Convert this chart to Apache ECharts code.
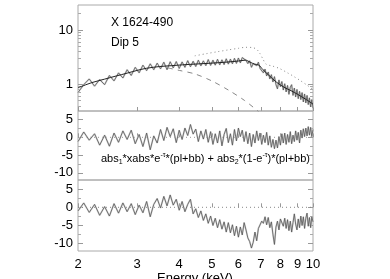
<!DOCTYPE html>
<html><head><meta charset="utf-8">
<script src="https://cdn.jsdelivr.net/npm/echarts@6/dist/echarts.min.js"></script>
<style>html,body{margin:0;padding:0;background:#fff}#c{width:390px;height:279px}</style>
</head><body><div id="c"></div>
<script>
const energy = [2.00,2.08,2.16,2.24,2.32,2.40,2.48,2.56,2.64,2.72,2.80,2.88,2.96,3.04,3.12,3.20,3.28,3.36,3.44,3.52,3.60,3.68,3.76,3.84,3.92,4.00,4.08,4.16,4.24,4.32,4.40,4.48,4.56,4.64,4.72,4.80,4.88,4.96,5.04,5.12,5.20,5.28,5.36,5.44,5.52,5.60,5.68,5.76,5.84,5.92,6.00,6.08,6.16,6.24,6.32,6.40,6.48,6.56,6.64,6.72,6.80,6.88,6.96,7.04,7.12,7.20,7.28,7.36,7.44,7.52,7.60,7.68,7.76,7.84,7.92,8.00,8.08,8.16,8.24,8.32,8.40,8.48,8.56,8.64,8.72,8.80,8.88,8.96,9.04,9.12,9.20,9.28,9.36,9.44,9.52,9.60,9.68,9.76,9.84,9.92,10.00];
const flux = [0.70,0.98,1.25,0.92,1.22,0.98,1.45,1.15,1.62,1.30,1.85,1.45,2.05,1.62,2.25,1.78,2.38,1.85,2.45,1.92,2.55,1.85,2.60,2.00,2.62,1.95,2.58,2.05,2.72,2.10,2.65,2.12,2.78,2.18,2.70,2.20,2.85,2.22,2.78,2.25,2.88,2.28,2.82,2.30,2.95,2.35,2.90,2.38,3.00,2.42,3.05,2.48,3.10,3.20,2.75,2.40,2.70,2.05,2.40,2.60,2.20,2.55,1.95,2.00,1.62,1.90,1.42,1.68,1.25,1.50,1.10,1.38,0.98,0.82,1.20,0.90,1.12,0.78,1.02,0.72,0.95,0.65,0.88,0.98,0.62,0.85,0.58,0.80,0.54,0.74,0.52,0.70,0.47,0.66,0.45,0.62,0.42,0.56,0.38,0.52,0.36];
const resid1 = [-1.2,1.5,-0.8,1.0,-2.2,0.6,-2.5,1.2,-1.4,1.8,-0.6,2.0,-1.8,0.8,-2.6,1.2,-3.5,0.4,-1.6,2.2,-0.9,2.8,0.2,2.4,-1.5,2.0,-0.6,2.6,0.5,3.6,0.9,2.3,-1.2,1.8,-0.5,2.2,-1.4,1.6,-2.0,1.0,-1.6,1.8,-2.4,0.8,2.5,-1.5,1.0,-2.2,2.2,-1.0,2.6,0.2,2.0,-1.2,1.6,-1.8,1.2,-2.6,0.8,-1.6,1.8,-0.9,1.2,-2.0,0.6,-1.5,1.4,-2.2,0.4,-2.8,-0.6,-3.2,-0.8,-3.0,0.2,-2.2,1.0,-1.6,1.2,-2.0,0.8,-1.4,1.6,-1.8,0.6,-1.2,1.8,-0.8,1.4,-1.6,2.0,-0.2,2.4,0.2,2.6,0.4,3.0,0.6,2.8,0.2,2.2];
const resid2 = [-1.0,1.2,-1.4,0.8,-2.2,0.2,-2.4,1.0,-1.6,1.2,-1.2,1.0,-2.0,0.6,-1.5,1.6,-2.6,0.8,2.4,-0.2,3.0,0.4,3.4,0.6,2.2,-0.8,1.6,-1.2,0.8,2.2,-1.8,-0.4,-2.8,-1.0,-3.6,-1.8,-4.4,-2.4,-5.0,-3.0,-5.6,-3.4,-6.0,-4.0,-6.8,-4.2,-7.0,-4.8,-7.8,-5.2,-8.2,-5.4,-7.6,-4.2,-6.2,-8.4,-9.4,-11.2,-9.6,-6.8,-9.2,-5.8,-6.0,-3.8,-4.4,-2.6,-4.8,-2.8,-5.6,-4.0,-7.4,-10.2,-5.4,-3.8,-6.2,-3.2,-2.8,-5.2,-3.0,-5.8,-3.4,-6.4,-3.8,-6.8,-4.2,-1.8,-4.6,-6.2,-3.2,-5.6,-2.4,-5.0,-2.6,-5.8,-3.0,-1.6,-5.2,-2.8,-5.6,-2.6,-4.0];
const modelE = [2.0,2.2,2.4,2.6,2.8,3.0,3.2,3.5,3.8,4.1,4.5,5.0,5.5,6.0,6.3,6.5,6.7,6.9,7.1,7.4,7.8,8.2,8.6,9.0,9.5,10.0];
const modelF = [0.86,1.07,1.24,1.42,1.60,1.80,1.97,2.12,2.20,2.28,2.36,2.45,2.55,2.68,2.78,2.55,2.35,2.25,1.85,1.45,1.08,0.88,0.76,0.65,0.53,0.43];
const unabsE = [4.45,4.8,5.2,5.6,6.0,6.3,6.6,6.8,6.95,7.1,7.25,7.6,7.95,8.4,8.8,9.2,9.6,10.0];
const unabsF = [3.34,3.65,3.98,4.3,4.6,4.8,4.75,4.4,3.7,2.9,2.35,2.15,1.95,1.62,1.37,1.15,0.96,0.8];
const compE = [3.7,4.0,4.45,5.0,5.6,6.26,6.9];
const compF = [2.0,1.8,1.55,1.15,0.78,0.5,0.31];
const xTicks = [2,3,4,5,6,7,8,9,10];
const topTicks = [1,10];
const topMinor = [0.4,0.5,0.6,0.7,0.8,0.9,2,3,4,5,6,7,8,9,20];
const resTicks = [-10,-5,0,5];
const resMinor = [-7.5,-2.5,2.5];

const FONT = 'Liberation Sans, Arial, Helvetica, sans-serif';
const zip = (a,b) => a.map((v,i)=>[v,b[i]]);
const grids = [
  {left:78, top:5, width:235, height:106},
  {left:78, top:111, width:235, height:69},
  {left:78, top:180, width:235, height:71}
].map(g => Object.assign(g, {show:true, borderColor:'#aaa', borderWidth:1, containLabel:false}));

const xAxes = [0,1,2].map(i => ({
  type:'log', gridIndex:i, min:2, max:10, logBase:10,
  axisLine:{show:false}, splitLine:{show:false},
  axisTick:{show:true, inside:true, length:4, lineStyle:{color:'#999'}, customValues:xTicks},
  axisLabel:{show:i===2, customValues:xTicks, margin:7, color:'#000', fontSize:13, fontFamily:FONT, formatter:v=>String(Math.round(v))}
}));

function yPair(gi, type, min, max, major, minor, labelFmt) {
  const base = {type, gridIndex:gi, min, max, axisLine:{show:false}, splitLine:{show:false}};
  if (type==='log') base.logBase = 10;
  return [
    Object.assign({}, base, {position:'left',
      axisTick:{show:true, inside:true, length:5, lineStyle:{color:'#999'}, customValues:major},
      axisLabel:{show:true, customValues:major, margin:5, color:'#000', fontSize:13, fontFamily:FONT, formatter:labelFmt}}),
    Object.assign({}, base, {position:'left',
      axisTick:{show:true, inside:true, length:3, lineStyle:{color:'#aaa'}, customValues:minor},
      axisLabel:{show:false}}),
    Object.assign({}, base, {position:'right',
      axisTick:{show:true, inside:true, length:5, lineStyle:{color:'#999'}, customValues:major},
      axisLabel:{show:false}}),
    Object.assign({}, base, {position:'right',
      axisTick:{show:true, inside:true, length:3, lineStyle:{color:'#aaa'}, customValues:minor},
      axisLabel:{show:false}})
  ];
}
const yAxes = [].concat(
  yPair(0,'log',0.32,29,topTicks,topMinor,v=>String(Math.round(v))),
  yPair(1,'value',-12,7.4,resTicks,resMinor,v=>String(v)),
  yPair(2,'value',-12,7.5,resTicks,resMinor,v=>String(v))
);

const lineBase = {type:'line', showSymbol:false, symbol:'none', silent:true, animation:false};
const band = {color:'#d8d8d8', width:1.8};
const thin = {color:'#555', width:0.8};
const series = [
  Object.assign({}, lineBase, {xAxisIndex:0, yAxisIndex:0, data:zip(energy,flux), lineStyle:band}),
  Object.assign({}, lineBase, {xAxisIndex:0, yAxisIndex:0, data:zip(energy,flux), lineStyle:thin}),
  Object.assign({}, lineBase, {xAxisIndex:0, yAxisIndex:0, data:zip(modelE,modelF), smooth:0.3, lineStyle:{color:'#222', width:1}}),
  Object.assign({}, lineBase, {xAxisIndex:0, yAxisIndex:0, data:zip(unabsE,unabsF), smooth:0.3, lineStyle:{color:'#888', width:1, type:[1,3]}}),
  Object.assign({}, lineBase, {xAxisIndex:0, yAxisIndex:0, data:zip(compE,compF), smooth:0.3, lineStyle:{color:'#888', width:1, type:[5,5]}}),
  Object.assign({}, lineBase, {xAxisIndex:1, yAxisIndex:4, data:[[2,0],[10,0]], lineStyle:{color:'#999', width:1, type:[1,3]}}),
  Object.assign({}, lineBase, {xAxisIndex:1, yAxisIndex:4, data:zip(energy,resid1), lineStyle:band}),
  Object.assign({}, lineBase, {xAxisIndex:1, yAxisIndex:4, data:zip(energy,resid1), lineStyle:thin}),
  Object.assign({}, lineBase, {xAxisIndex:2, yAxisIndex:8, data:[[2,0],[10,0]], lineStyle:{color:'#888', width:1, type:[1,3]}}),
  Object.assign({}, lineBase, {xAxisIndex:2, yAxisIndex:8, data:zip(energy,resid2), lineStyle:band}),
  Object.assign({}, lineBase, {xAxisIndex:2, yAxisIndex:8, data:zip(energy,resid2), lineStyle:thin})
];

const chart = echarts.init(document.getElementById('c'), null, {renderer:'canvas'});
chart.setOption({
  animation:false,
  backgroundColor:'#fff',
  grid:grids, xAxis:xAxes, yAxis:yAxes, series,
  graphic:[
    {type:'text', left:111, top:17, style:{text:'X 1624-490', font:'12px ' + FONT, fill:'#000'}},
    {type:'text', left:111, top:37, style:{text:'Dip 5', font:'12px ' + FONT, fill:'#000'}},
    {type:'text', right:80, top:152, style:{
      text:'{n|abs}{s|1}{n|*xabs*e}{p|-τ}{n|*(pl+bb) + abs}{s|2}{n|*(1-e}{p|-τ}{n|)*(pl+bb)}',
      rich:{
        n:{fontSize:11, fontFamily:FONT, fill:'#000', lineHeight:14},
        s:{fontSize:7, fontFamily:FONT, fill:'#000', verticalAlign:'bottom', lineHeight:14},
        p:{fontSize:7, fontFamily:FONT, fill:'#000', verticalAlign:'top', lineHeight:9}
      }}},
    {type:'text', left:'center', top:272, style:{text:'Energy (keV)', font:'13px ' + FONT, fill:'#000'}}
  ]
});
</script></body></html>
